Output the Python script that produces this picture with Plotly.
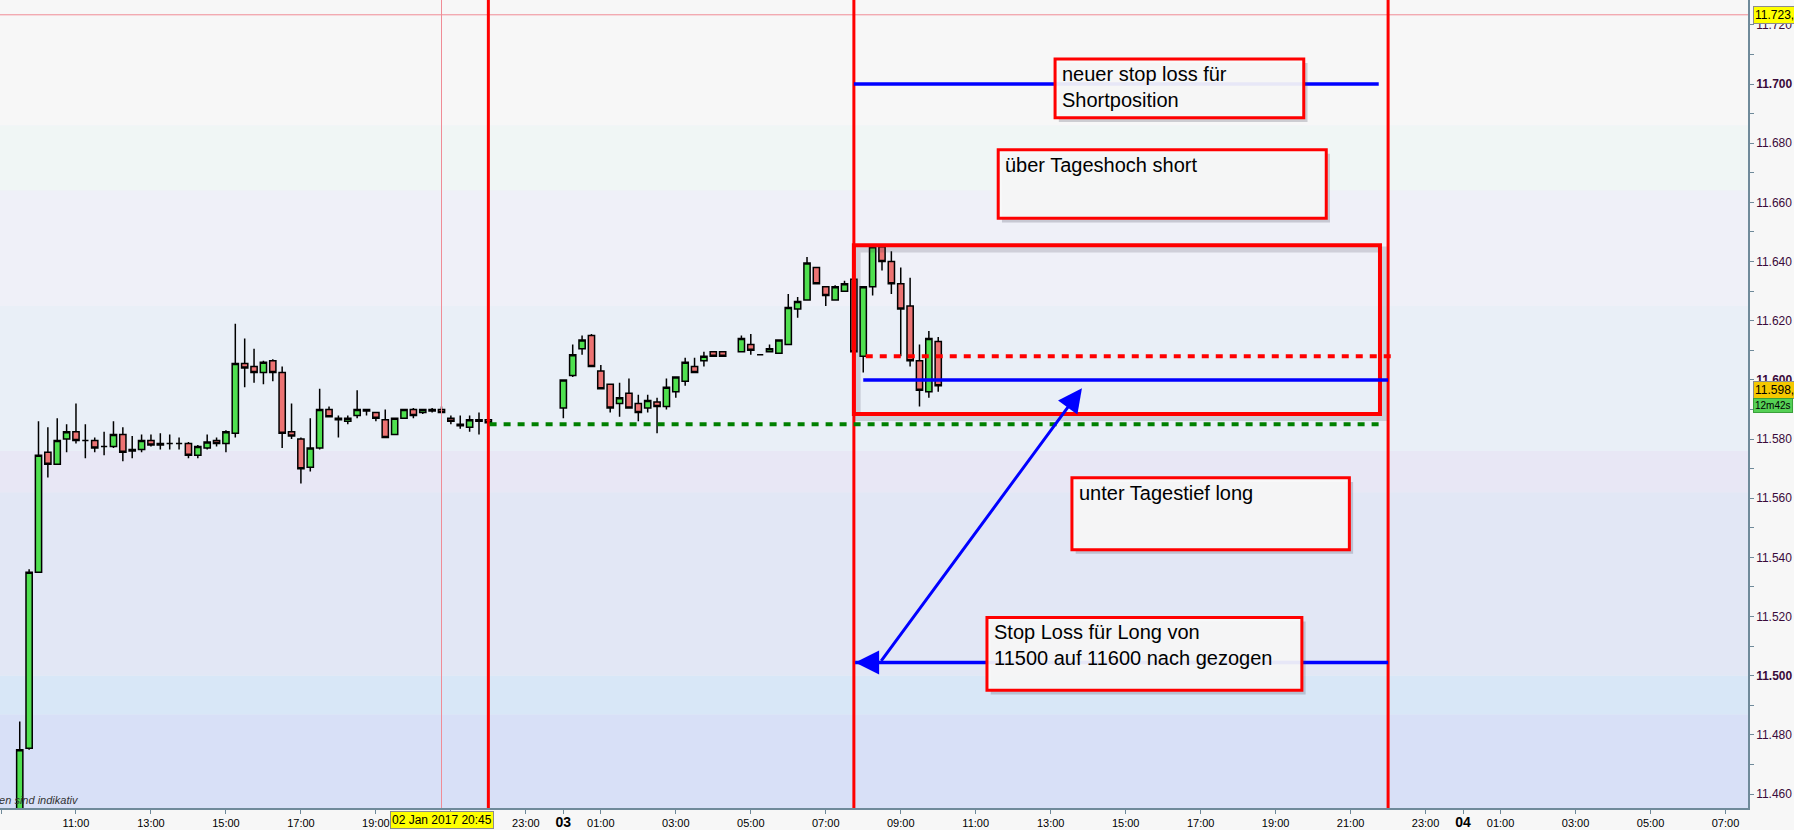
import pandas as pd
import plotly.graph_objects as go

# 15-minute candles, 2 and 3 Jan 2017 (prices in index points)
times_jan02 = ["09:30", "09:45", "10:00", "10:15", "10:30", "10:45", "11:00", "11:15", "11:30", "11:45",
               "12:00", "12:15", "12:30", "12:45", "13:00", "13:15", "13:30", "13:45", "14:00", "14:15",
               "14:30", "14:45", "15:00", "15:15", "15:30", "15:45", "16:00", "16:15", "16:30", "16:45",
               "17:00", "17:15", "17:30", "17:45", "18:00", "18:15", "18:30", "18:45", "19:00", "19:15",
               "19:30", "19:45", "20:00", "20:15", "20:30", "20:45", "21:00", "21:15", "21:30", "21:45",
               "22:00"]
times_jan03 = ["00:00", "00:15", "00:30", "00:45", "01:00", "01:15", "01:30", "01:45", "02:00", "02:15",
               "02:30", "02:45", "03:00", "03:15", "03:30", "03:45", "04:00", "04:15", "04:45", "05:00",
               "05:15", "05:30", "05:45", "06:00", "06:15", "06:30", "06:45", "07:00", "07:15", "07:30",
               "07:45", "08:00", "08:15", "08:30", "08:45", "09:00", "09:15", "09:30", "09:45", "10:00"]

open_jan02 = [11450, 11475.5, 11535, 11575.5, 11571.5, 11580, 11582.5, 11579.5, 11579.5, 11577.5,
              11577.5, 11581.5, 11576.5, 11576.5, 11579.5, 11578.5, 11578.5, 11578.5, 11578.5, 11574.5,
              11577, 11579.5, 11578.5, 11582, 11605.5, 11604.5, 11602.5, 11606.5, 11602.5, 11582.5,
              11580, 11570.5, 11577, 11590, 11587, 11586, 11588, 11590, 11589, 11586.5,
              11581.5, 11587, 11590, 11589, 11590, 11590, 11587, 11585, 11584, 11586.5,
              11586.5]
high_jan02 = [11484.5, 11536, 11586, 11584, 11587, 11585, 11592, 11585, 11580.5, 11582.5,
              11586, 11584, 11581, 11581.5, 11581.5, 11582, 11581.5, 11580.5, 11579, 11578,
              11581.5, 11580.5, 11583, 11619, 11614, 11610.5, 11606.5, 11607, 11604.5, 11592,
              11580.5, 11587, 11597, 11591, 11588, 11588, 11596.5, 11590, 11589, 11590,
              11587, 11590, 11590.5, 11590, 11590.5, 11591, 11588, 11588, 11588, 11589,
              11587]
low_jan02 = [11448, 11475, 11535, 11567, 11571.5, 11575.5, 11578.5, 11573.5, 11575.5, 11574.5,
             11577, 11572.5, 11573.5, 11575.5, 11577.5, 11576.5, 11576.5, 11576.5, 11573.5, 11573.5,
             11576.5, 11577.5, 11575.5, 11580.5, 11597.5, 11599, 11598.5, 11599.5, 11577, 11580,
             11565, 11569, 11576.5, 11587.5, 11580.5, 11585, 11587, 11588, 11586, 11580.5,
             11581.5, 11587, 11587, 11588.5, 11589, 11589, 11585, 11583.5, 11582.5, 11581.5,
             11584]
close_jan02 = [11475, 11535, 11574.5, 11571.5, 11579.5, 11582.5, 11579.5, 11579.5, 11577, 11577.5,
               11581.5, 11575.5, 11576, 11579.5, 11578, 11578, 11578.5, 11578.5, 11574.5, 11577.5,
               11579, 11578.5, 11582.5, 11605.5, 11604, 11602.5, 11606, 11602.5, 11582, 11581,
               11570, 11577, 11590, 11587.5, 11586.5, 11587, 11590, 11589.5, 11587, 11580.5,
               11587, 11590, 11588, 11590, 11589.5, 11589, 11586, 11584.5, 11586.5, 11586,
               11585.5]

open_jan03 = [11590.5, 11601.5, 11610.5, 11615, 11603, 11598.5, 11592, 11595.5, 11592, 11590.5,
              11592.5, 11591, 11596, 11599.5, 11604.5, 11606.5, 11609.5, 11609.5, 11609.5, 11612,
              11608.5, 11609.5, 11609, 11612, 11624, 11627, 11638, 11631.5, 11627, 11630,
              11634, 11608, 11631.5, 11645, 11640, 11632.5, 11625, 11606.5, 11596, 11613]
high_jan03 = [11600, 11612, 11615, 11615.5, 11605, 11598.5, 11599, 11600.5, 11595, 11595,
              11594, 11600.5, 11601, 11607.5, 11607.5, 11609.5, 11609.5, 11609.5, 11615, 11615.5,
              11608.7, 11612, 11613.5, 11629, 11628, 11641.5, 11638, 11631.5, 11632, 11633.5,
              11634, 11631.5, 11645, 11645, 11643.5, 11638, 11634.5, 11612, 11616.5, 11614.5]
low_jan03 = [11587, 11601, 11608.5, 11604.5, 11597, 11589, 11587.5, 11590.5, 11586, 11589,
             11582, 11590, 11594, 11598, 11602.5, 11604.5, 11608, 11608, 11609.5, 11608.5,
             11608.3, 11609.5, 11609, 11612, 11621, 11627, 11632.5, 11625, 11627, 11630,
             11609.5, 11602.5, 11628.5, 11637, 11629, 11608, 11604.5, 11591, 11594, 11596]
close_jan03 = [11600, 11608.5, 11613.5, 11604.5, 11597, 11590.5, 11594, 11590.5, 11589, 11593,
               11591, 11597.5, 11601, 11606, 11602.5, 11608, 11608, 11608, 11614, 11610,
               11608.5, 11610.5, 11613.5, 11624.5, 11626.5, 11639.5, 11632.5, 11628.5, 11631.5, 11632.5,
               11609.5, 11631.5, 11645, 11640, 11632.5, 11624, 11606.5, 11596.5, 11614, 11598]

# price axis labels
price_ticks = [11460, 11480, 11500, 11520, 11540, 11560, 11580, 11600, 11620, 11640, 11660, 11680, 11700, 11720]
price_labels = ["11.460", "11.480", "<b>11.500</b>", "11.520", "11.540", "11.560", "11.580", "<b>11.600</b>",
                "11.620", "11.640", "11.660", "11.680", "<b>11.700</b>", "11.720"]

# time axis labels (21:00 on 2 Jan sits under the cursor badge)
time_ticks = ["2017-01-02 09:00", "2017-01-02 11:00", "2017-01-02 13:00", "2017-01-02 15:00", "2017-01-02 17:00",
              "2017-01-02 19:00", "2017-01-02 21:00", "2017-01-02 23:00", "2017-01-03 00:00", "2017-01-03 01:00",
              "2017-01-03 03:00", "2017-01-03 05:00", "2017-01-03 07:00", "2017-01-03 09:00", "2017-01-03 11:00",
              "2017-01-03 13:00", "2017-01-03 15:00", "2017-01-03 17:00", "2017-01-03 19:00", "2017-01-03 21:00",
              "2017-01-03 23:00", "2017-01-04 00:00", "2017-01-04 01:00", "2017-01-04 03:00", "2017-01-04 05:00",
              "2017-01-04 07:00"]
day_span = '<span style="font-size:14px"><b>%s</b></span>'
time_labels = ["09:00", "11:00", "13:00", "15:00", "17:00", "19:00", "", "23:00", day_span % "03", "01:00",
               "03:00", "05:00", "07:00", "09:00", "11:00", "13:00", "15:00", "17:00", "19:00", "21:00",
               "23:00", day_span % "04", "01:00", "03:00", "05:00", "07:00"]

# background price zones (lower bound, upper bound, colour)
zone_bounds = [11400, 11487, 11500, 11562, 11576, 11625, 11664, 11686, 11800]
zone_colors = ["#D8E0F7", "#D8E7F7", "#E2E7F5", "#E8E7F5", "#E9EFF7", "#EFF0F8", "#F0F6F5", "#F7F7F7"]

# drawings
session_lines = ["2017-01-02 22:00", "2017-01-03 07:45", "2017-01-03 22:00"]
cursor_time = "2017-01-02 20:45"
cursor_price = 11723.4
last_price = 11598.0

short_stop = 11700
short_stop_span = ("2017-01-03 07:45", "2017-01-03 21:45")
range_box = ("2017-01-03 07:45", "2017-01-03 21:47", 11588.5, 11645.5)
day_high_line = 11608
day_high_span = ("2017-01-03 08:04", "2017-01-03 22:13")
new_long_stop = 11600
new_long_stop_span = ("2017-01-03 08:00", "2017-01-03 22:00")
prev_close_line = 11585
prev_close_span = ("2017-01-02 22:02", "2017-01-03 21:45")
old_long_stop = 11504.5
old_long_stop_span = ("2017-01-03 07:47", "2017-01-03 22:00")
arrow_tail = ("2017-01-03 08:27", 11504.5)
arrow_head = ("2017-01-03 13:50", 11597.2)

note_boxes = [
    ("2017-01-03 13:07", "2017-01-03 19:45", 11688.6, 11708.5, "neuer stop loss für<br>Shortposition"),
    ("2017-01-03 11:36", "2017-01-03 20:21", 11654.6, 11677.8, "über Tageshoch short"),
    ("2017-01-03 13:34", "2017-01-03 20:58", 11542.6, 11566.9, "unter Tagestief long"),
    ("2017-01-03 11:18", "2017-01-03 19:42", 11495.1, 11519.7, "Stop Loss für Long von<br>11500 auf 11600 nach gezogen"),
]

x_all = ["2017-01-02 " + t for t in times_jan02] + ["2017-01-03 " + t for t in times_jan03]

fig = go.Figure(go.Candlestick(
    x=x_all,
    open=open_jan02 + open_jan03,
    high=high_jan02 + high_jan03,
    low=low_jan02 + low_jan03,
    close=close_jan02 + close_jan03,
    increasing=dict(fillcolor="#4FE04F", line=dict(color="black", width=1.5)),
    decreasing=dict(fillcolor="#EC7373", line=dict(color="black", width=1.5)),
    whiskerwidth=0,
    hoverinfo="skip",
))

shapes = []
for lo, hi, col in zip(zone_bounds[:-1], zone_bounds[1:], zone_colors):
    shapes.append(dict(type="rect", xref="paper", x0=0, x1=1, y0=lo, y1=hi,
                       fillcolor=col, line=dict(width=0), layer="below"))

# crosshair
shapes.append(dict(type="line", xref="x", yref="paper", x0=cursor_time, x1=cursor_time, y0=0, y1=1,
                   line=dict(color="#F08C96", width=1)))
shapes.append(dict(type="line", xref="paper", x0=0, x1=1, y0=cursor_price, y1=cursor_price,
                   line=dict(color="#F08C96", width=1)))

for t in session_lines:
    shapes.append(dict(type="line", xref="x", yref="paper", x0=t, x1=t, y0=0, y1=1,
                       line=dict(color="#FF0000", width=3)))

shadow_dt = pd.Timedelta(minutes=6)
shadow_dy = 1.4


def shifted(t, n=1):
    return str(pd.Timestamp(t) + n * shadow_dt)


# short stop line
shapes.append(dict(type="line", x0=short_stop_span[0], x1=short_stop_span[1], y0=short_stop, y1=short_stop,
                   line=dict(color="#0000FF", width=3.5)))

# range box with shadow
bx0, bx1, by0, by1 = range_box
shapes.append(dict(type="rect", x0=shifted(bx0), x1=shifted(bx1), y0=by0 - shadow_dy, y1=by1 - shadow_dy,
                   line=dict(color="rgba(60,60,80,0.18)", width=6)))
shapes.append(dict(type="rect", x0=bx0, x1=bx1, y0=by0, y1=by1, line=dict(color="#FF0000", width=4)))

shapes.append(dict(type="line", x0=prev_close_span[0], x1=prev_close_span[1], y0=prev_close_line,
                   y1=prev_close_line, line=dict(color="#008000", width=4, dash="7px,7px")))
shapes.append(dict(type="line", x0=day_high_span[0], x1=day_high_span[1], y0=day_high_line, y1=day_high_line,
                   line=dict(color="#FF0000", width=4, dash="7px,7px")))
shapes.append(dict(type="line", x0=new_long_stop_span[0], x1=new_long_stop_span[1], y0=new_long_stop,
                   y1=new_long_stop, line=dict(color="#0000FF", width=3.5)))
shapes.append(dict(type="line", x0=old_long_stop_span[0], x1=old_long_stop_span[1], y0=old_long_stop,
                   y1=old_long_stop, line=dict(color="#0000FF", width=3.5)))

annotations = []
for x0, x1, y0, y1, txt in note_boxes:
    shapes.append(dict(type="rect", x0=shifted(x0), x1=shifted(x1), y0=y0 - shadow_dy, y1=y1 - shadow_dy,
                       fillcolor="rgba(60,60,80,0.22)", line=dict(width=0)))
    shapes.append(dict(type="rect", x0=x0, x1=x1, y0=y0, y1=y1, fillcolor="rgba(249,249,249,0.93)",
                       line=dict(color="#FF0000", width=3)))
    annotations.append(dict(x=x0, y=y1, xanchor="left", yanchor="top", xshift=5, yshift=-2,
                            text=txt, showarrow=False, align="left",
                            font=dict(size=20, color="black", family="Liberation Sans, Arial")))

# arrows
annotations.append(dict(x=old_long_stop_span[0], y=old_long_stop, ax=shifted(old_long_stop_span[0], 4),
                        ay=old_long_stop, axref="x", ayref="y", text="", showarrow=True,
                        arrowhead=2, arrowsize=1.6, arrowwidth=3, arrowcolor="#0000FF"))
annotations.append(dict(x=arrow_head[0], y=arrow_head[1], ax=arrow_tail[0], ay=arrow_tail[1],
                        axref="x", ayref="y", text="", showarrow=True,
                        arrowhead=2, arrowsize=1.6, arrowwidth=3, arrowcolor="#0000FF"))

# axis badges
annotations.append(dict(xref="x", yref="paper", x=cursor_time, y=0, yanchor="top", yshift=-3,
                        text="02 Jan 2017 20:45", showarrow=False, bgcolor="#FFFF00",
                        bordercolor="#8C8C8C", borderwidth=1, borderpad=1,
                        font=dict(size=12, color="black", family="Liberation Sans Narrow, Liberation Sans")))
annotations.append(dict(xref="paper", x=1, y=cursor_price, xanchor="left", xshift=5,
                        text="11.723,4", showarrow=False, bgcolor="#FFFF00",
                        bordercolor="#8C8C8C", borderwidth=1, borderpad=1,
                        font=dict(size=12, color="black", family="Liberation Sans")))
annotations.append(dict(xref="paper", x=1, y=last_price, xanchor="left", xshift=5, yshift=-4,
                        text="11.598,0", showarrow=False, bgcolor="#F5C800",
                        bordercolor="#8C8C8C", borderwidth=1, borderpad=1,
                        font=dict(size=12, color="black", family="Liberation Sans")))
annotations.append(dict(xref="paper", x=1, y=last_price, xanchor="left", xshift=5, yshift=-20,
                        text="12m42s", showarrow=False, bgcolor="#55D055",
                        bordercolor="#3AA03A", borderwidth=1, borderpad=1,
                        font=dict(size=10, color="black", family="Liberation Sans")))
annotations.append(dict(xref="paper", yref="paper", x=81 / 1748, y=0, xanchor="right", yanchor="bottom",
                        text="<i>Daten sind indikativ</i>", showarrow=False,
                        font=dict(size=11, color="#333333", family="Liberation Sans")))

fig.update_layout(
    width=1794,
    height=830,
    margin=dict(l=0, r=46, t=0, b=20),
    paper_bgcolor="#F7F7F7",
    plot_bgcolor="#E9EFF7",
    showlegend=False,
    boxgap=0.05,
    font=dict(family="Liberation Sans, Arial", size=11, color="black"),
    shapes=shapes,
    annotations=annotations,
    xaxis=dict(
        type="date",
        range=["2017-01-02 08:58:24", "2017-01-04 07:36"],
        rangeslider=dict(visible=False),
        tickmode="array",
        tickvals=time_ticks,
        ticktext=time_labels,
        ticks="outside",
        ticklen=4,
        tickcolor="#6F8A9A",
        showgrid=False,
        zeroline=False,
        showline=True,
        linecolor="#6F8A9A",
        linewidth=1.5,
        tickfont=dict(size=11, color="black", family="Liberation Sans Narrow, Liberation Sans"),
        fixedrange=True,
    ),
    yaxis=dict(
        side="right",
        range=[11455.3, 11728.4],
        tickmode="array",
        tickvals=price_ticks,
        ticktext=price_labels,
        ticks="outside",
        ticklen=4,
        tickcolor="#6F8A9A",
        minor=dict(dtick=10, tick0=11460, ticks="outside", ticklen=4, tickcolor="#6F8A9A", showgrid=False),
        showgrid=False,
        zeroline=False,
        showline=True,
        linecolor="#6F8A9A",
        linewidth=1.5,
        tickfont=dict(size=12, color="#3A0A3A"),
        fixedrange=True,
    ),
)

fig.write_html("out.html", config={"displayModeBar": False},
               post_script="document.body.style.margin='0px';document.body.style.overflow='hidden';")
